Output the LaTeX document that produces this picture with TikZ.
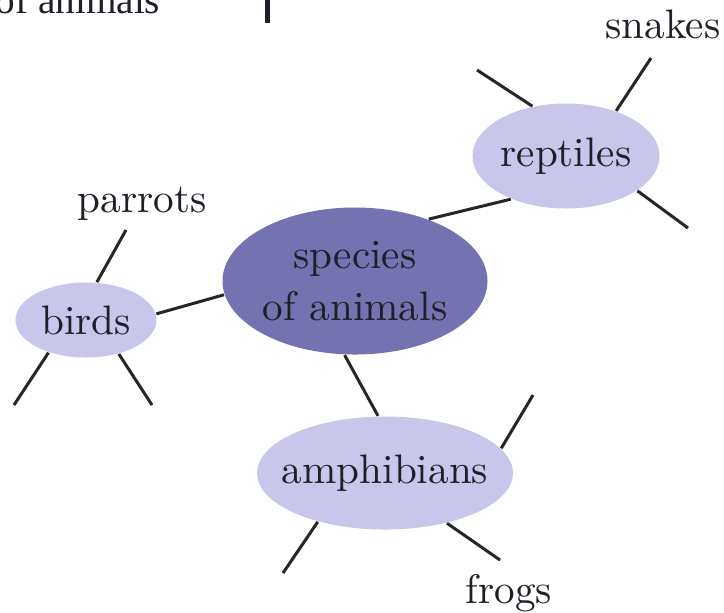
\documentclass[tikz,border=0pt]{standalone}
\usepackage{fontspec}
\newfontfamily\timesfont{Liberation Serif}
\usetikzlibrary{shapes.geometric}
\definecolor{hubfill}{HTML}{7572B2}
\definecolor{bubfill}{HTML}{C8C6EA}
\definecolor{ink}{HTML}{1F1F28}
\definecolor{linec}{HTML}{262626}
\begin{document}
\begin{tikzpicture}[x=0.25pt,y=-0.25pt,
  bubble/.style={ellipse, inner sep=0pt, fill=bubfill, text=ink,
    font=\fontsize{10.3}{13}\selectfont},
  hub/.style={bubble, fill=hubfill},
  leaf/.style={inner sep=0pt, text=ink, font=\fontsize{10.3}{13}\selectfont},
  link/.style={draw=linec, line width=0.75pt}]
\clip (0,0) rectangle (724,612);
\fill[white] (0,0) rectangle (724,612);
% fragment at top
\node[anchor=base west, inner sep=0pt, text=ink,
  font=\timesfont\fontsize{9.8}{12}\selectfont] (frag) at (-5,13) {of animals};
\fill[ink] (265,0) rectangle (270,23);
% bubbles
\node[hub, minimum width=66.25pt, minimum height=36.75pt, align=center] (hub) at (355,281)
  {\makebox[0pt]{species}\\\makebox[0pt]{of animals}};
\node[bubble, minimum width=46.75pt, minimum height=26.25pt] (rep) at (566,156) {\makebox[0pt]{reptiles}};
\node[bubble, minimum width=35.25pt, minimum height=18.75pt] (bird) at (86,320) {\makebox[0pt]{birds}};
\node[bubble, minimum width=64pt, minimum height=28.25pt] (amph) at (385,473) {\makebox[0pt]{amphibians}};
% leaf labels
\node[leaf, anchor=base] (snakes) at (663,38) {snakes};
\node[leaf, anchor=base] (parrots) at (142,212) {parrots};
\node[leaf, anchor=base] (frogs) at (509,603) {frogs};
% free ends
\coordinate (rs) at (651,58);
\coordinate (rul) at (477,70);
\coordinate (rlr) at (688,228);
\coordinate (bp) at (126,230);
\coordinate (bll) at (14,405);
\coordinate (blr) at (152,405);
\coordinate (aur) at (533,395);
\coordinate (all) at (283,573);
\coordinate (alr) at (500,560);
% hub links
\draw[link] (rep.218.5) -- (hub.40.5);
\draw[link] (bird.5.6) -- (hub.186.2);
\draw[link] (amph.97) -- (hub.262);
% leaf links
\draw[link] (rep.42) -- (rs);
\draw[link] (rep.124.8) -- (rul);
\draw[link] (rep.-26.6) -- (rlr);
\draw[link] (bird.74) -- (bp);
\draw[link] (bird.221.3) -- (bll);
\draw[link] (bird.-46.6) -- (blr);
\draw[link] (amph.12.7) -- (aur);
\draw[link] (amph.216.3) -- (all);
\draw[link] (amph.-39.5) -- (alr);
\end{tikzpicture}
\end{document}
